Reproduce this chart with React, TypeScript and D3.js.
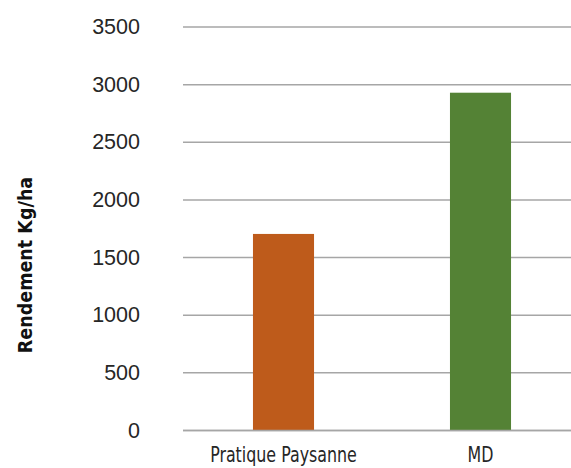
import React from "react";
import * as d3 from "d3";

const categories: string[] = ["Pratique Paysanne", "MD"];
const values: number[] = [1705, 2930];
const barColors: string[] = ["#BE5B1B", "#548235"];
const yTicks: number[] = [0, 500, 1000, 1500, 2000, 2500, 3000, 3500];
const yTitle = "Rendement Kg/ha";

const W = 571;
const H = 468;

export default function App() {
  const y = d3.scaleLinear().domain([0, 3500]).range([430.5, 27]);
  const x = d3
    .scaleBand<string>()
    .domain(categories)
    .range([185, 579])
    .paddingInner(0.69)
    .paddingOuter(0.345);

  const gridX0 = 183;
  const gridX1 = 571;
  const condensed = "'Liberation Sans Narrow', 'DejaVu Sans Condensed', 'Roboto Condensed', sans-serif";

  return (
    <div style={{ position: "fixed", left: 0, top: 0 }}>
      <svg width={W} height={H} style={{ display: "block", background: "#fff" }}>
        {yTicks.map((t) => (
          <g key={t}>
            <line
              x1={gridX0}
              x2={gridX1}
              y1={y(t)}
              y2={y(t)}
              stroke="#a6a6a6"
              strokeWidth={1.5}
            />
            <text
              x={140}
              y={y(t)}
              dy="0.33em"
              textAnchor="end"
              fontFamily="'Liberation Sans', Arial, sans-serif"
              fontSize={21.5}
              fill="#262626"
            >
              {t}
            </text>
          </g>
        ))}
        {categories.map((c, i) => {
          const cx = (x(c) as number) + x.bandwidth() / 2;
          return (
            <g key={c}>
              <rect
                x={x(c)}
                y={y(values[i])}
                width={x.bandwidth()}
                height={y(0) - y(values[i])}
                fill={barColors[i]}
              />
              <text
                transform={`translate(${cx}, 462) scale(0.82, 1)`}
                textAnchor="middle"
                fontFamily={condensed}
                fontStretch="condensed"
                fontSize={21.5}
                fill="#262626"
              >
                {c}
              </text>
            </g>
          );
        })}
        <line x1={gridX0} x2={gridX1} y1={y(0)} y2={y(0)} stroke="#a6a6a6" strokeWidth={1.5} />
        <text
          transform={`translate(32, 265) rotate(-90)`}
          textAnchor="middle"
          fontFamily={condensed}
          fontStretch="condensed"
          fontWeight="bold"
          fontSize={19.5}
          fill="#111"
        >
          {yTitle}
        </text>
      </svg>
    </div>
  );
}
